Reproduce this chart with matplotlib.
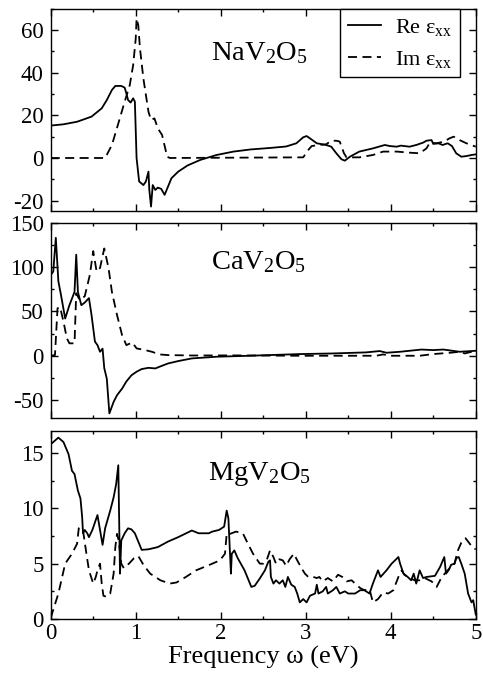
import matplotlib
matplotlib.use('Agg')
import matplotlib.pyplot as plt
from matplotlib.ticker import MultipleLocator

plt.rcParams['font.family'] = ['Liberation Serif', 'DejaVu Serif']
plt.rcParams['mathtext.fontset'] = 'custom'
plt.rcParams['mathtext.rm'] = 'Liberation Serif'
plt.rcParams['mathtext.it'] = 'Liberation Serif:italic'
plt.rcParams['axes.unicode_minus'] = False

# NaV2O5
na_re_x = [0, 0.15, 0.31, 0.48, 0.60, 0.66, 0.72, 0.76, 0.83, 0.87, 0.89, 0.91, 0.94, 0.97, 0.99,
           1.01, 1.04, 1.09, 1.12, 1.15, 1.16, 1.18, 1.20, 1.23, 1.26, 1.30, 1.34, 1.38, 1.42, 1.50,
           1.61, 1.76, 1.95, 2.15, 2.35, 2.58, 2.77, 2.89, 2.97, 3.01, 3.05, 3.13, 3.24, 3.30, 3.36,
           3.42, 3.46, 3.52, 3.63, 3.79, 3.93, 3.99, 4.07, 4.12, 4.22, 4.30, 4.38, 4.42, 4.48, 4.50,
           4.56, 4.61, 4.67, 4.72, 4.77, 4.83, 4.89, 4.95, 5.0]
na_re_y = [15.2, 15.8, 17, 19.4, 23.3, 27.2, 31.9, 33.8, 33.8, 33, 30.3, 27.2, 26, 28, 26.4,
           0, -11, -12.7, -11, -6.4, -15, -22.8, -12.7, -15, -13.9, -14.5, -17.3, -13.4, -9.5, -6.4,
           -3.5, -0.9, 1.4, 3.0, 4.0, 4.7, 5.4, 6.9, 9.7, 10.3, 9.2, 6.9, 6.1, 5.3, 2.2,
           -0.6, -1.25, 0.6, 3.0, 4.5, 6.1, 5.6, 5.3, 5.8, 5.3, 6.1, 7.2, 8.1, 8.4, 6.6,
           6.9, 6.1, 6.9, 5.6, 2.2, 0.6, 0.9, 1.4, 1.7]
na_im_x = [0, 0.64, 0.72, 0.79, 0.87, 0.93, 0.97, 1.00, 1.01, 1.03, 1.05, 1.09, 1.15, 1.18, 1.22,
           1.26, 1.31, 1.37, 1.40, 2.97, 3.03, 3.07, 3.15, 3.24, 3.30, 3.36, 3.40, 3.45, 3.48, 3.63,
           3.79, 3.91, 4.07, 4.22, 4.34, 4.42, 4.46, 4.54, 4.63, 4.69, 4.74, 4.81, 4.89, 5.0]
na_im_y = [0, 0, 6.1, 15.5, 26.4, 34.2, 43.6, 56, 65.5, 62.3, 51.4, 37.3, 21.7, 17.8, 18.6,
           13.9, 10.8, 0.6, 0, 0.3, 3.75, 5.6, 6.1, 6.4, 8.1, 8.1, 7.7, 2.2, 0.3, 0.3,
           1.4, 3, 3, 2.5, 2.2, 4.5, 7.2, 6.9, 7.7, 9.2, 10, 8.4, 6.9, 5.3]

# CaV2O5
ca_re_x = [0, 0.03, 0.06, 0.09, 0.12, 0.17, 0.22, 0.28, 0.30, 0.32, 0.36, 0.40, 0.45, 0.48, 0.52,
           0.55, 0.58, 0.61, 0.63, 0.66, 0.69, 0.74, 0.78, 0.84, 0.89, 0.95, 1.01, 1.07, 1.15, 1.23,
           1.28, 1.38, 1.50, 1.66, 1.95, 2.34, 2.93, 3.32, 3.71, 3.87, 3.95, 4.11, 4.36, 4.50, 4.62,
           4.81, 5.0]
ca_re_y = [91, 95, 133, 84, 69, 42, 57, 72, 114, 72, 57, 60, 65, 46, 16,
           12, 4.5, 8, -14, -26, -65, -52, -44.5, -37, -29, -22, -18, -15, -13.6, -14.3,
           -12.4, -8.7, -6, -3, -1.1, 0, 1.9, 2.6, 3.8, 5.3, 3.4, 4.5, 7, 6.4, 7,
           4.5, 5.6]
ca_im_x = [0, 0.05, 0.08, 0.11, 0.15, 0.19, 0.22, 0.28, 0.30, 0.34, 0.40, 0.46, 0.50, 0.54, 0.58,
           0.63, 0.68, 0.72, 0.78, 0.84, 0.89, 0.96, 1.01, 1.11, 1.19, 1.28, 1.38, 1.66, 2.15, 2.93,
           3.83, 3.91, 3.99, 4.34, 4.50, 4.70, 4.81, 4.87, 5.0]
ca_im_y = [0, 0.8, 53.5, 55, 38.5, 19.6, 14, 14, 70.5, 63, 67, 91, 118, 95, 99,
           121, 99, 72, 46, 23, 12, 15, 8.3, 6.4, 4.5, 1.5, 0.75, 0.3, 0.4, 0,
           0, 1.5, 0, 0, 1.9, 3.4, 4.5, 2.6, 5.6]

# MgV2O5
mg_re_x = [0, 0.09, 0.15, 0.21, 0.25, 0.28, 0.32, 0.35, 0.37, 0.38, 0.40, 0.43, 0.45, 0.49, 0.55,
           0.58, 0.61, 0.64, 0.70, 0.74, 0.77, 0.795, 0.815, 0.83, 0.87, 0.91, 0.95, 0.99, 1.03, 1.07,
           1.15, 1.26, 1.38, 1.50, 1.58, 1.66, 1.74, 1.86, 1.90, 1.98, 2.04, 2.07, 2.09, 2.12, 2.13,
           2.16, 2.20, 2.28, 2.36, 2.40, 2.46, 2.52, 2.56, 2.58, 2.59, 2.62, 2.65, 2.69, 2.73, 2.76,
           2.79, 2.83, 2.87, 2.90, 2.93, 2.97, 3.01, 3.05, 3.11, 3.13, 3.15, 3.20, 3.24, 3.26, 3.32,
           3.36, 3.40, 3.46, 3.50, 3.58, 3.64, 3.69, 3.75, 3.79, 3.85, 3.88, 3.95, 4.01, 4.09, 4.11,
           4.15, 4.20, 4.24, 4.27, 4.30, 4.34, 4.38, 4.42, 4.52, 4.58, 4.63, 4.65, 4.68, 4.71, 4.75,
           4.77, 4.80, 4.83, 4.87, 4.91, 4.95, 4.97, 5.0]
mg_re_y = [15.8, 16.4, 16.0, 14.9, 13.4, 13.1, 11.6, 10.9, 9.2, 7.75, 8.05, 7.75, 7.4, 8.05, 9.4,
           8.05, 6.7, 8.2, 9.8, 11.0, 12.2, 13.9, 4.1, 7.1, 7.75, 8.2, 8.1, 7.75, 7.0, 6.25,
           6.3, 6.5, 7.0, 7.4, 7.7, 8.0, 7.75, 7.75, 7.9, 8.05, 8.35, 9.8, 9.1, 4.1, 5.9,
           6.2, 5.5, 4.4, 2.9, 3.0, 3.67, 4.4, 5.17, 5.3, 3.8, 3.2, 3.5, 3.2, 3.5, 2.9,
           3.8, 3.1, 2.9, 2.3, 1.5, 1.8, 1.5, 2.1, 2.3, 3.1, 2.3, 2.5, 2.9, 2.3, 2.6,
           2.9, 2.3, 2.5, 2.3, 2.3, 2.6, 2.6, 2.3, 3.2, 4.4, 3.8, 4.4, 5.0, 5.6, 5.0,
           4.1, 3.8, 3.5, 4.1, 3.2, 4.4, 3.7, 3.8, 3.9, 4.7, 5.6, 4.1, 4.4, 4.9, 5.0,
           5.5, 5.6, 5.0, 4.1, 2.3, 1.5, 1.7, 0.4]
mg_im_x = [0, 0.09, 0.17, 0.25, 0.31, 0.33, 0.35, 0.38, 0.42, 0.45, 0.50, 0.53, 0.55, 0.58, 0.60,
           0.62, 0.66, 0.70, 0.74, 0.76, 0.78, 0.80, 0.83, 0.86, 0.92, 0.98, 1.03, 1.09, 1.17, 1.29,
           1.40, 1.48, 1.59, 1.71, 1.87, 1.99, 2.05, 2.07, 2.11, 2.18, 2.26, 2.32, 2.38, 2.46, 2.50,
           2.54, 2.58, 2.62, 2.65, 2.69, 2.73, 2.77, 2.81, 2.86, 2.90, 2.95, 2.99, 3.03, 3.09, 3.13,
           3.16, 3.20, 3.26, 3.32, 3.38, 3.43, 3.48, 3.54, 3.58, 3.64, 3.69, 3.75, 3.79, 3.85, 3.91,
           3.97, 4.03, 4.09, 4.13, 4.16, 4.22, 4.28, 4.34, 4.40, 4.48, 4.54, 4.60, 4.67, 4.75, 4.79,
           4.83, 4.88, 4.93, 4.97, 5.0]
mg_im_y = [0.1, 2.3, 5.0, 5.9, 6.8, 8.2, 8.3, 8.0, 5.9, 4.4, 3.2, 3.8, 4.4, 5.0, 3.2,
           2.1, 2.0, 2.3, 4.1, 6.5, 7.7, 7.1, 5.0, 4.6, 5.0, 5.5, 5.7, 4.9, 4.1, 3.5,
           3.2, 3.3, 3.8, 4.4, 4.9, 5.3, 5.9, 7.7, 7.7, 7.9, 7.75, 6.8, 5.9, 5.0, 5.0,
           5.3, 6.2, 5.6, 5.0, 5.4, 5.3, 4.8, 5.4, 5.9, 5.3, 4.6, 4.1, 3.8, 3.8, 3.7,
           3.8, 3.4, 3.7, 3.4, 4.0, 3.8, 3.4, 3.5, 3.2, 2.8, 2.6, 2.7, 1.5, 1.8, 2.4,
           2.3, 2.6, 3.8, 4.4, 4.0, 3.7, 3.5, 3.5, 3.7, 3.4, 2.9, 3.8, 4.4, 5.0, 6.2,
           6.9, 7.3, 6.8, 6.4, 6.3]

names = ['NaV$_2$O$_5$', 'CaV$_2$O$_5$', 'MgV$_2$O$_5$']
ylims = [(-25, 70), (-70, 150), (0, 17)]
ymajor = [20, 50, 5]
name_y = [0.745, 0.76, 0.74]

series = [(na_re_x, na_re_y, na_im_x, na_im_y),
          (ca_re_x, ca_re_y, ca_im_x, ca_im_y),
          (mg_re_x, mg_re_y, mg_im_x, mg_im_y)]

fig = plt.figure(figsize=(4.83, 6.75), dpi=100)
boxes = [[0.105, 0.687, 0.880, 0.300],
         [0.105, 0.381, 0.880, 0.289],
         [0.105, 0.083, 0.880, 0.2785]]

for i in range(3):
    ax = fig.add_axes(boxes[i])
    rx, ry, ix, iy = series[i]
    ax.plot(rx, ry, color='black', lw=1.3, label='Re ε$_{\\mathrm{xx}}$')
    ax.plot(ix, iy, color='black', lw=1.3, ls=(0, (5, 3)), label='Im ε$_{\\mathrm{xx}}$')
    ax.set_xlim(0, 5)
    ax.set_ylim(*ylims[i])
    ax.xaxis.set_major_locator(MultipleLocator(1))
    ax.xaxis.set_minor_locator(MultipleLocator(0.5))
    ax.yaxis.set_major_locator(MultipleLocator(ymajor[i]))
    ax.yaxis.set_minor_locator(MultipleLocator(ymajor[i] / 2))
    ax.tick_params(which='both', direction='in', top=True, right=True, labelsize=16.5, width=1)
    ax.tick_params(which='major', length=5)
    ax.tick_params(axis='y', which='major', pad=5)
    ax.tick_params(axis='x', which='major', pad=3)
    ax.tick_params(which='minor', length=2.5)
    for s in ax.spines.values():
        s.set_linewidth(1)
    ax.text(0.49, name_y[i], names[i], transform=ax.transAxes, ha='center',
            va='baseline', fontsize=20.5)
    if i < 2:
        ax.set_xticklabels([])
    else:
        ax.set_xlabel('Frequency ω (eV)', fontsize=19, labelpad=1)
    if i == 0:
        leg = ax.legend(loc='upper right', bbox_to_anchor=(0.962, 1.0), borderaxespad=0,
                        fontsize=16, fancybox=False, handlelength=1.5, handletextpad=0.6,
                        borderpad=0.35, labelspacing=0.5, framealpha=1)
        leg.get_frame().set_edgecolor('black')
        leg.get_frame().set_linewidth(1)

fig.savefig('out.png', dpi=100)
